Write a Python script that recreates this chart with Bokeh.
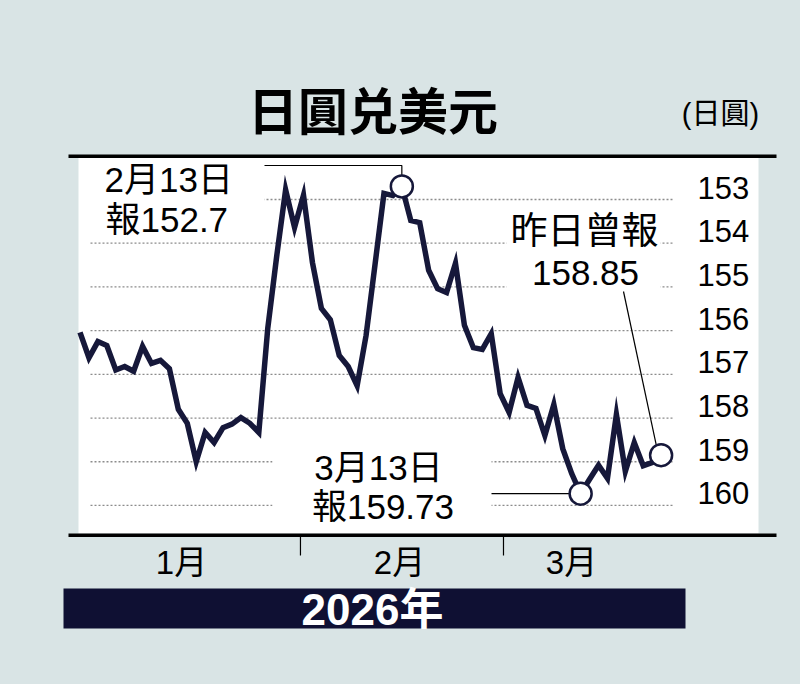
from bokeh.plotting import figure
from bokeh.models import Range1d, Label, GlobalInlineStyleSheet
from bokeh.core.properties import value
from bokeh.embed import file_html
from bokeh.resources import INLINE

# ---------------- data ----------------
day_index = list(range(66))          # trading-day index
usdjpy = [156.04, 156.62, 156.25, 156.34, 156.90, 156.82, 156.93, 156.36, 156.75, 156.68,
          156.87, 157.80, 158.12, 159.00, 158.33, 158.56, 158.22, 158.14, 157.99, 158.12,
          158.33, 155.95, 154.30, 152.78, 153.64, 152.90, 154.44, 155.49, 155.75, 156.57,
          156.82, 157.26, 156.11, 154.49, 152.86, 152.91, 152.70, 153.48, 153.53, 154.62,
          155.04, 155.13, 154.46, 155.88, 156.39, 156.43, 156.07, 157.44, 157.87, 157.07,
          157.71, 157.78, 158.40, 157.69, 158.70, 159.27, 159.73, 159.40, 159.08, 159.38,
          157.92, 159.22, 158.56, 159.09, 159.02, 158.85]
month_labels = ["1月", "2月", "3月"]
month_label_pos = [11.35, 35.74, 54.98]
month_bounds = [24.66, 47.37]
y_ticks = [153, 154, 155, 156, 157, 158, 159, 160]
annot_idx = [36, 56, 65]

# ---------------- layout helpers (page pixel -> data units) ----------------
X0, DX = 79.5, 8.94
Y0, DY = 199.0, 43.71
W, H = 800, 684


def X(px):
    return (px - X0) / DX


def Y(py):
    return 153 + (py - Y0) / DY


BG = "#d9e4e5"
NAVY = "#16183a"
BAR = "#0f1033"
MIX = "Liberation Sans, Noto Sans CJK TC"
CJK = "Noto Sans CJK TC"

p = figure(width=W, height=H,
           x_range=Range1d(X(0), X(W)), y_range=Range1d(Y(H), Y(0)),
           x_axis_type=None, y_axis_type=None, min_border=0, title=None,
           toolbar_location=None, output_backend="svg",
           background_fill_color=BG, border_fill_color=BG)
p.outline_line_color = None
p.stylesheets = [GlobalInlineStyleSheet(css="body { margin: 0; background-color: %s; }" % BG)]

# white panel
p.quad(left=X(78), right=X(758), top=Y(157), bottom=Y(533), fill_color="white", line_color=None)

# dotted grid lines
p.segment(x0=[X(90)] * len(y_ticks), x1=[X(673)] * len(y_ticks), y0=y_ticks, y1=y_ticks,
          line_color="#8c8c8c", line_width=1.3, line_dash="2 2")

# white masks behind annotation text
p.quad(left=[X(88), X(272), X(506)], right=[X(264), X(491), X(660)],
       top=[Y(160), Y(442), Y(205)], bottom=[Y(240), Y(525), Y(300)],
       fill_color="white", line_color=None)

# rules
p.segment(x0=[X(68)] * 2, x1=[X(776)] * 2, y0=[Y(155.7), Y(534.7)], y1=[Y(155.7), Y(534.7)],
          line_color="black", line_width=3.5)

# month separators
p.segment(x0=month_bounds, x1=month_bounds, y0=[Y(536)] * 2, y1=[Y(555)] * 2,
          line_color="black", line_width=1.2)

# data line
p.line(day_index, usdjpy, line_color=NAVY, line_width=5.5, line_join="miter")

# leader lines
ax = [day_index[i] for i in annot_idx]
ay = [usdjpy[i] for i in annot_idx]
p.multi_line(xs=[[X(264), ax[0], ax[0]], [X(491), ax[1]], [X(623), ax[2] - 0.3]],
             ys=[[Y(165), Y(165), ay[0]], [ay[1], ay[1]], [Y(291), ay[2]]],
             line_color="black", line_width=1.2)

# marker circles
p.scatter(x=ax, y=ay, size=22, fill_color="white", line_color=NAVY, line_width=2.5)

# y labels (inside panel, sitting just above their grid line)
lift = Y(187) - Y(199)
p.text(x=[X(697)] * len(y_ticks), y=[t + lift for t in y_ticks], text=[str(t) for t in y_ticks],
       text_font=value("Liberation Sans"), text_font_size="31px", text_color="black",
       text_align="left", text_baseline="middle")

# month labels
p.text(x=month_label_pos, y=[Y(562)] * 3, text=month_labels,
       text_font=value(MIX), text_font_size="33px", text_color="black",
       text_align="center", text_baseline="middle")

# year bar
p.quad(left=X(63), right=X(685), top=Y(588), bottom=Y(628), fill_color=BAR, line_color=None)


def lab(x, y, t, size, align="center", font=MIX, style="normal", color="black"):
    p.add_layout(Label(x=x, y=y, text=t, text_font=font, text_font_size=size,
                       text_font_style=style, text_color=color,
                       text_align=align, text_baseline="middle"))


lab(X(372), Y(608.5), "2026年", "44px", style="bold", color="white")
lab(X(372.5), Y(107), "日圓兑美元", "50px", font=CJK, style="bold")
lab(X(720), Y(113), "(日圓)", "29px")
lab(X(104), Y(179), "2月13日", "35px", align="left")
lab(X(105), Y(219), "報152.7", "35px", align="left")
lab(X(584), Y(231), "昨日曾報", "37px")
lab(X(585), Y(272.5), "158.85", "35px")
lab(X(378), Y(466.5), "3月13日", "35px")
lab(X(382.5), Y(505.5), "報159.73", "35px")

open("out.html", "w").write(file_html(p, INLINE))
